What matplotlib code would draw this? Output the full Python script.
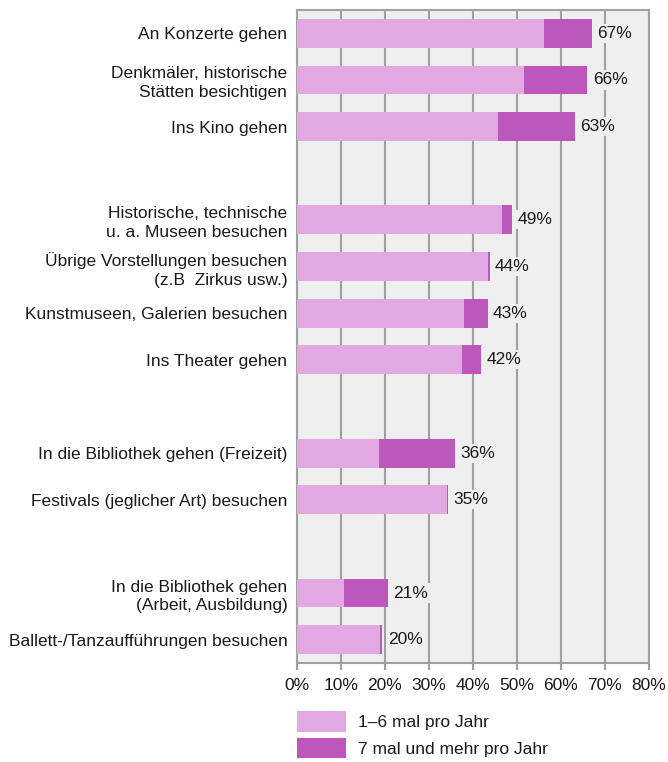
import numpy as np
import matplotlib.pyplot as plt
from matplotlib.patches import Patch

plt.rcParams['font.family'] = ['Liberation Sans', 'DejaVu Sans']

labels = [
    "An Konzerte gehen",
    "Denkmäler, historische\nStätten besichtigen",
    "Ins Kino gehen",
    "Historische, technische\nu. a. Museen besuchen",
    "Übrige Vorstellungen besuchen\n(z.B  Zirkus usw.)",
    "Kunstmuseen, Galerien besuchen",
    "Ins Theater gehen",
    "In die Bibliothek gehen (Freizeit)",
    "Festivals (jeglicher Art) besuchen",
    "In die Bibliothek gehen\n(Arbeit, Ausbildung)",
    "Ballett-/Tanzaufführungen besuchen",
]
slots = [0, 1, 2, 4, 5, 6, 7, 9, 10, 12, 13]
light = [56.1, 51.7, 45.6, 46.5, 43.5, 37.9, 37.6, 18.6, 34.0, 10.6, 18.8]
dark = [11.0, 14.3, 17.5, 2.4, 0.3, 5.4, 4.3, 17.4, 0.4, 10.0, 0.6]
totals = ["67%", "66%", "63%", "49%", "44%", "43%", "42%", "36%", "35%", "21%", "20%"]

c_light = "#e2a8e2"
c_dark = "#bc58bc"
txt = "#1a1a1a"
fs = 12.5

fig = plt.figure(figsize=(6.68, 7.62), dpi=100)
ax = fig.add_axes([297 / 668, 1 - 663 / 762, 352 / 668, 653 / 762])
ax.set_facecolor("#efefef")

ax.barh(slots, light, height=0.62, color=c_light, zorder=3)
ax.barh(slots, dark, left=light, height=0.62, color=c_dark, zorder=3)

for s, l, d, t in zip(slots, light, dark, totals):
    ax.text(l + d + 1.2, s, t, va="center", ha="left", fontsize=fs, color=txt,
            zorder=4, bbox=dict(facecolor="#efefef", edgecolor="none", pad=1.5))

ax.set_xlim(0, 80)
ax.set_ylim(13.5, -0.5)
ax.set_xticks(np.arange(0, 81, 10))
ax.set_xticklabels([f"{v}%" for v in range(0, 81, 10)], fontsize=fs, color=txt)
ax.set_yticks(slots)
ax.set_yticklabels(labels, fontsize=fs, color=txt, linespacing=1.3)
ax.tick_params(axis="y", length=0, pad=7)
ax.tick_params(axis="x", length=5, width=1.5, color="#a0a0a0", pad=6)
ax.grid(axis="x", color="#a0a0a0", linewidth=1.5, zorder=1)
for sp in ax.spines.values():
    sp.set_color("#a0a0a0")
    sp.set_linewidth(1.5)

handles = [Patch(facecolor=c_light, edgecolor="none", label="1–6 mal pro Jahr"),
           Patch(facecolor=c_dark, edgecolor="none", label="7 mal und mehr pro Jahr")]
fig.legend(handles=handles, loc="upper left", bbox_to_anchor=(297 / 668, 1 - 711 / 762),
           frameon=False, fontsize=fs, handlelength=2.8, handleheight=1.45,
           handletextpad=0.7, labelspacing=0.35, borderaxespad=0, borderpad=0,
           labelcolor=txt)

fig.savefig("out.png", dpi=100)
